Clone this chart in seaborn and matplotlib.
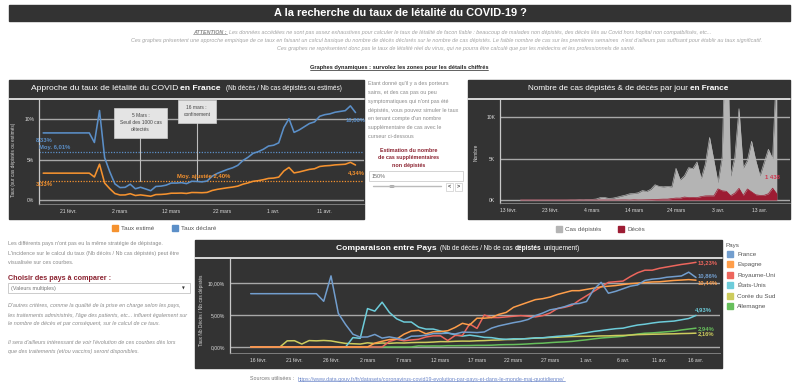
import matplotlib
matplotlib.use('Agg')
import matplotlib.pyplot as plt
import matplotlib.dates as mdates
from matplotlib.patches import Rectangle, Circle
from matplotlib.lines import Line2D
from matplotlib.ticker import FuncFormatter, FixedLocator
from matplotlib import font_manager
import pandas as pd
import seaborn as sns

# taux de létalité par pays (décès cumulés / cas dépistés cumulés, en %), du 15 févr. au 16 avr. 2020
dates_pays = pd.date_range('2020-02-15', '2020-04-16', freq='D')

france = [
    8.33, 8.33, 8.33, 8.33, 8.33, 8.33, 8.33, 8.33, 8.33, 8.33,
    7.14, 11.11, 5.26, 3.51, 2.00,
    1.54, 1.57, 1.96, 1.39, 1.58, 1.37, 1.15, 1.68, 1.72, 1.84,
    2.10, 2.10, 2.15, 2.03, 2.32, 2.30, 2.25, 2.35, 2.95, 3.30,
    3.55, 3.80, 4.00, 4.30, 4.90, 5.30, 5.80, 6.00, 6.30, 6.70, 6.80,
    7.10, 9.00, 10.10, 8.40, 8.70, 9.10, 9.50, 9.70, 10.40, 10.60,
    10.70, 10.90, 11.00, 11.10, 11.69, 10.86,
]
espagne = [
    0, 0, 0, 0, 0, 0, 0, 0, 0, 0, 0, 0, 0, 0, 0,
    0, 0, 0.60, 0.90, 1.16, 1.25, 2.00, 2.50, 2.60, 2.06,
    2.37, 2.40, 2.54, 3.05, 3.70, 3.44, 4.50, 4.50, 4.60, 5.10,
    5.40, 6.20, 6.60, 7.00, 7.40, 7.55, 7.80, 8.20, 8.50, 8.80, 8.80,
    9.00, 9.20, 9.40, 9.50, 9.60, 9.76, 9.90, 9.98, 10.08, 10.16,
    10.19, 10.30, 10.40, 10.46, 10.53, 10.44,
]
royaume_uni = [
    0, 0, 0, 0, 0, 0, 0, 0, 0, 0, 0, 0, 0, 0, 0,
    0, 0, 0, 0, 0.87, 1.20, 0.97, 1.10, 1.20, 1.56,
    1.74, 1.74, 1.00, 1.80, 1.80, 3.60, 2.90, 5.00, 4.60, 4.60,
    4.70, 4.80, 4.90, 4.80, 4.70, 4.90, 5.30, 6.00, 6.20, 6.50, 7.30,
    8.00, 8.70, 9.40, 10.10, 10.20, 10.30, 11.00, 11.60, 12.00, 12.00,
    12.30, 12.50, 12.70, 12.90, 13.05, 13.23,
]
etats_unis = [
    0, 0, 0, 0, 0, 0, 0, 0, 0, 0, 0, 0, 0, 0, 1.47,
    1.35, 6.00, 5.60, 7.00, 5.40, 4.40, 3.90, 3.90, 3.10, 2.80,
    2.80, 2.50, 2.20, 1.90, 1.70, 1.85, 1.70, 1.50, 1.46, 1.28,
    1.20, 1.28, 1.26, 1.31, 1.43, 1.44, 1.56, 1.67, 1.75, 1.84, 2.06,
    2.23, 2.43, 2.57, 2.72, 2.86, 2.94, 3.20, 3.43, 3.56, 3.74,
    3.89, 3.97, 4.05, 4.25, 4.45, 4.93,
]
coree_du_sud = [
    0, 0, 0, 0, 0, 0.96, 0.98, 0.46, 1.00, 0.96, 1.02, 0.95, 0.74, 0.56, 0.51,
    0.46, 0.65, 0.54, 0.62, 0.57, 0.64, 0.62, 0.68, 0.71, 0.72,
    0.77, 0.84, 0.83, 0.89, 0.92, 0.91, 0.97, 1.00, 1.06, 1.09,
    1.16, 1.17, 1.24, 1.33, 1.38, 1.42, 1.49, 1.52, 1.59, 1.64, 1.66,
    1.67, 1.69, 1.73, 1.74, 1.79, 1.81, 1.86, 1.93, 1.96, 1.99,
    2.01, 2.04, 2.06, 2.10, 2.12, 2.16,
]
allemagne = [
    0, 0, 0, 0, 0, 0, 0, 0, 0, 0, 0, 0, 0, 0, 0,
    0, 0, 0, 0, 0, 0, 0, 0, 0.17, 0.14,
    0.16, 0.15, 0.20, 0.20, 0.22, 0.23, 0.26, 0.26, 0.28, 0.34,
    0.37, 0.38, 0.42, 0.48, 0.55, 0.59, 0.68, 0.75, 0.80, 0.87, 1.00,
    1.12, 1.27, 1.40, 1.49, 1.58, 1.68, 1.88, 2.02, 2.15, 2.20,
    2.29, 2.38, 2.47, 2.66, 2.80, 2.94,
]

pays = ['France', 'Espagne', 'Royaume-Uni', 'États-Unis', 'Corée du Sud', 'Allemagne']
etiquettes_fin = ['10,86%', '10,44%', '13,23%', '4,93%', '2,16%', '2,94%']

# cas dépistés et décès par jour en France (dates des graphes du haut : 16 févr. -> 17 avr.)
dates_jour = pd.date_range('2020-02-16', '2020-04-17', freq='D')
cas_jour = [
    0, 0, 0, 0, 0, 0, 0, 0, 0, 0, 2, 4, 20, 19,
    43, 30, 61, 73, 120, 300, 310, 190, 230, 350,
    480, 600, 760, 790, 880, 1150, 1050, 1300, 1850, 1650,
    1600, 1650, 1600, 3840, 2450, 2930, 3920, 3810, 4610, 2600, 4380,
    7580, 4860, 2120, 5230, 25600, 2890, 5170, 11060, 3880, 4800,
    7120, 4790, 2940, 4560, 6150, 5000, 17000,
]
deces_jour = [
    0, 0, 0, 0, 0, 0, 0, 0, 0, 0, 0, 1, 0, 0,
    0, 0, 1, 1, 0, 2, 3, 2, 8, 0,
    14, 15, 0, 31, 12, 20, 30, 40, 60, 90,
    110, 110, 180, 240, 230, 365, 300, 320, 290, 420, 500,
    510, 500, 1355, 1120, 1053, 518, 833, 1417, 541, 1341,
    987, 635, 561, 574, 762, 1438, 753,
]

moyenne_declaree = 6.01
cas_supplementaires = 1.5   # curseur : 150 %
evenements = [('2020-03-06', '5 Mars :\nSeuil des 1000 cas\ndétectés', 9.6),
              ('2020-03-17', '16 mars :\nconfinement', 11.0)]

# ---------- style ----------
sns.set_style('white')
noms = {f.name for f in font_manager.fontManager.ttflist}
ETROIT = 'Liberation Sans Narrow' if 'Liberation Sans Narrow' in noms else 'Liberation Sans'
plt.rcParams['font.family'] = ['Liberation Sans', 'DejaVu Sans']

FOND = '#333333'
BLEU, ORANGE = '#5b8fc8', '#f5922f'
couleurs_pays = ['#729ece', '#ff9e4a', '#ed665d', '#6dccda', '#cdcc5d', '#67bf5c']
GRIS_CAS, ROUGE_DECES = '#b4b4b4', '#9d1c33'
MOIS = {1: 'janv.', 2: 'févr.', 3: 'mars', 4: 'avr.'}

W, H = 799, 386
fig = plt.figure(figsize=(W / 100, H / 100), dpi=100)
fig.patch.set_facecolor('white')
rendu = fig.canvas.get_renderer()


def fx(x):
    return x / W


def fy(y):
    return 1 - y / H


def rect(x, y, w, h, **kw):
    fig.add_artist(Rectangle((fx(x), fy(y + h)), w / W, h / H, transform=fig.transFigure, **kw))


def trait(x0, y0, x1, y1, **kw):
    fig.add_artist(Line2D([fx(x0), fx(x1)], [fy(y0), fy(y1)], transform=fig.transFigure, **kw))


def texte(x, y, s, **kw):
    kw.setdefault('va', 'center')
    return fig.text(fx(x), fy(y), s, **kw)


def ligne_riche(x, y, morceaux, ha='center'):
    # morceaux : (texte, style, écart en px après le morceau)
    objets = []
    for s, style, ecart in morceaux:
        o = fig.text(0, fy(y), s, va='center', ha='left', **style)
        objets.append((o, o.get_window_extent(rendu).width + ecart))
    total = sum(l for _, l in objets) - morceaux[-1][2]
    x0 = x - total / 2 if ha == 'center' else x
    for o, l in objets:
        o.set_x(fx(x0))
        x0 += l
    return [o for o, _ in objets]


def souligner(o, couleur):
    bb = o.get_window_extent(rendu)
    fig.add_artist(Line2D([bb.x0 / W, bb.x1 / W], [(bb.y0 + 0.6) / H] * 2,
                          transform=fig.transFigure, color=couleur, lw=0.5))


def axes_px(x0, y0, x1, y1):
    return fig.add_axes([fx(x0), fy(y1), (x1 - x0) / W, (y1 - y0) / H])


def panneau(x, y, w, h, y_sep):
    rect(x, y, w, h, color=FOND, zorder=0)
    trait(x, y_sep, x + w, y_sep, color='#e6e6e6', lw=1.3, zorder=1)


def style_sombre(ax, ticks_dates, fmt_y, ticks_y):
    ax.set_facecolor(FOND)
    for s in ['top', 'right']:
        ax.spines[s].set_visible(False)
    ax.spines['left'].set_color('#c8c8c8')
    ax.spines['bottom'].set_color('#8a8a8a')
    ax.spines['left'].set_linewidth(0.9)
    ax.spines['bottom'].set_linewidth(0.6)
    ax.xaxis.set_major_locator(FixedLocator(mdates.date2num(pd.to_datetime(ticks_dates))))
    ax.xaxis.set_major_formatter(FuncFormatter(
        lambda v, p: f"{mdates.num2date(v).day} {MOIS[mdates.num2date(v).month]}"))
    ax.xaxis.set_minor_locator(mdates.DayLocator())
    ax.yaxis.set_major_locator(FixedLocator(ticks_y))
    ax.yaxis.set_major_formatter(FuncFormatter(fmt_y))
    ax.tick_params(axis='both', which='major', colors='#c8c8c8', labelcolor='#dddddd',
                   labelsize=3.6, length=2, width=0.6, pad=1.5)
    ax.tick_params(axis='x', which='minor', colors='#8a8a8a', length=1.2, width=0.5)
    for t in ax.get_xticklabels() + ax.get_yticklabels():
        t.set_fontfamily(ETROIT)
    for v in ticks_y:
        ax.axhline(v, color='#a8a8a8', lw=1.0, zorder=0.5)
    ax.set_xlabel('')
    ax.set_ylabel('')


# ---------- en-tête ----------
rect(9, 5, 781, 16, color=FOND)
texte(400, 13.5, 'A la recherche du taux de létalité du COVID-19 ?', color='white',
      fontsize=7.9, fontweight='bold', fontfamily=ETROIT, ha='center')

gris_it = dict(color='#a3a3a3', fontsize=3.9, fontstyle='italic')
o = ligne_riche(452, 32.5, [('ATTENTION :', dict(gris_it, color='#8a8a8a', fontweight='bold'), 2),
                            ("Les données accédées ne sont pas assez exhaustives pour calculer le taux de létalité de facon fiable : beaucoup de malades non dépistés, des décès liés au Covid hors hopital non compatbilisés, etc...", gris_it, 0)])
souligner(o[0], '#8a8a8a')
ligne_riche(447, 40.5, [("Ces graphes présentent une approche empirique de ce taux en faisant un calcul basique du nombre de décès déclarés sur le nombre de cas dépistés. Le faible nombre de cas sur les premières semaines  n'est d'ailleurs pas suffisant pour établir au taux significatif.", gris_it, 0)])
ligne_riche(456, 48.5, [("Ces graphes ne représentent donc pas le taux de létalité réel du virus, qui ne pourra être calculé que par les médecins et les professionnels de santé.", gris_it, 0)])
o = ligne_riche(399, 68, [('Graphes dynamiques : survolez les zones pour les détails chiffrés',
                           dict(color='#222222', fontsize=4.1, fontweight='bold'), 0)])
souligner(o[0], '#222222')

# ---------- taux de létalité en France ----------
panneau(9, 80, 355, 139, 98.5)
titre = dict(color='white', fontfamily=ETROIT)
ligne_riche(186, 89, [('Approche du taux de létalité du COVID', dict(titre, fontsize=6.1), 2),
                      ('en France', dict(titre, fontsize=6.1, fontweight='bold'), 5),
                      ('(Nb décès / Nb cas dépistés ou estimés)', dict(titre, fontsize=4.7), 0)])

taux_estime = [v / (1 + cas_supplementaires) for v in france]
moyenne_ajustee = moyenne_declaree / (1 + cas_supplementaires)
df_fr = pd.DataFrame({'date': list(dates_jour) * 2,
                      'taux': taux_estime + france,
                      'serie': ['Taux estimé'] * len(france) + ['Taux déclaré'] * len(france)})

ax1 = axes_px(39, 100, 364, 204)
sns.lineplot(data=df_fr, x='date', y='taux', hue='serie', palette=[ORANGE, BLEU],
             linewidth=1.15, legend=False, ax=ax1, zorder=3)
style_sombre(ax1, ['2020-02-21', '2020-03-02', '2020-03-12', '2020-03-22', '2020-04-01', '2020-04-11'],
             lambda v, p: f'{v:.0f}%', [0, 5, 10])
ref = mdates.date2num(pd.Timestamp('2020-03-02'))
ax1.set_xlim(ref - 81 / 5.12, ref + 244 / 5.12)
ax1.set_ylim(-0.5, 12.42)

ax1.axhline(moyenne_declaree, color=BLEU, ls=(0, (1, 1.2)), lw=0.9, zorder=2)
ax1.axhline(moyenne_ajustee, color=ORANGE, ls=(0, (1, 1.2)), lw=0.9, zorder=2)
et = dict(fontsize=4.2, fontfamily=ETROIT, fontweight='bold')
ax1.text(0.0, moyenne_declaree + 0.15, 'Moy. 6,01%', color=BLEU, va='bottom', ha='left',
         transform=ax1.get_yaxis_transform(), **et)
ax1.text(0.425, moyenne_ajustee + 0.15, 'Moy. ajustée 2,40%', color=ORANGE, va='bottom', ha='left',
         transform=ax1.get_yaxis_transform(), **et)
d0, d1 = dates_jour[0], dates_jour[-1]
ax1.annotate('8,33%', (d0, france[0]), xytext=(-7, -7), textcoords='offset pixels',
             color=BLEU, ha='left', va='center', **et)
ax1.annotate('3,33%', (d0, taux_estime[0]), xytext=(-7, -10), textcoords='offset pixels',
             color=ORANGE, ha='left', va='center', **et)
ax1.annotate('10,86%', (d1, france[-1]), xytext=(0, -7), textcoords='offset pixels',
             color=BLEU, ha='center', va='center', annotation_clip=False, **et)
ax1.annotate('4,34%', (d1, taux_estime[-1]), xytext=(1, -8), textcoords='offset pixels',
             color=ORANGE, ha='center', va='center', annotation_clip=False, **et)
for d, txt, y_boite in evenements:
    d = pd.Timestamp(d)
    ax1.plot([d, d], [moyenne_ajustee, y_boite], color='#bdbdbd', lw=0.8, zorder=2.5)
    ax1.text(d, y_boite, txt, ha='center', va='center', fontsize=3.5, color='#444444',
             linespacing=1.5, zorder=5,
             bbox=dict(boxstyle='square,pad=1.1', fc='#e4e4e4', ec='#cfcfcf', lw=0.5))
texte(14, 160, 'Taux (sur cas dépistés ou estimés)', rotation=90, ha='center',
      color='#d8d8d8', fontsize=3.4, fontfamily=ETROIT)

rect(112, 225, 6, 6, color=ORANGE)
texte(121, 228.5, 'Taux estimé', color='#555555', fontsize=4.5)
rect(172, 225, 6, 6, color=BLEU)
texte(181, 228.5, 'Taux déclaré', color='#555555', fontsize=4.5)

# ---------- texte et curseur du milieu ----------
gris = dict(color='#8a8a8a', fontsize=3.9)
for i, l in enumerate(["Etant donné qu'il y a des porteurs", "sains, et des cas pas ou peu",
                       "symptomatiques qui n'ont pas été", "dépistés, vous pouvez simuler le taux",
                       "en tenant compte d'un nombre", "supplémentaire de cas avec le",
                       "curseur ci-dessous"]):
    texte(368, 84 + i * 8.7, l, **gris)
for i, l in enumerate(['Estimation du nombre', 'de cas supplémentaires', 'non dépistés']):
    texte(409, 150 + i * 8, l, ha='center', color='#8b2230', fontsize=3.9, fontweight='bold')
rect(369, 171, 94, 9.5, fc='white', ec='#cccccc', lw=0.6)
texte(372, 176, f'{cas_supplementaires:.0%}', color='#666666', fontsize=3.9)
trait(373, 186.5, 441, 186.5, color='#bbbbbb', lw=1.0)
fig.add_artist(Circle((fx(392), fy(186.5)), 2.3 / W, transform=fig.transFigure,
                      fc='white', ec='#999999', lw=0.6))
for xb, s in [(446, '<'), (455, '>')]:
    rect(xb, 182.5, 7, 8, fc='white', ec='#cccccc', lw=0.5)
    texte(xb + 3.5, 186.5, s, ha='center', color='#444444', fontsize=4, fontweight='bold')

# ---------- cas et décès par jour ----------
panneau(468, 80, 322, 139, 98.5)
ligne_riche(628, 89, [('Nombre de cas dépistés & de décès par jour', dict(titre, fontsize=5.9), 2),
                      ('en France', dict(titre, fontsize=5.9, fontweight='bold'), 0)])
df_jour = pd.DataFrame({'date': dates_jour, 'cas': cas_jour, 'deces': deces_jour})
ax2 = axes_px(500, 100, 790, 203)
ax2.fill_between(df_jour['date'], 0, df_jour['cas'], color=GRIS_CAS, lw=0, zorder=2)
ax2.fill_between(df_jour['date'], 0, df_jour['deces'], color=ROUGE_DECES, lw=0, zorder=3)
sns.lineplot(data=df_jour, x='date', y='cas', color=GRIS_CAS, linewidth=0.5, ax=ax2, zorder=2)
sns.lineplot(data=df_jour, x='date', y='deces', color=ROUGE_DECES, linewidth=0.5, ax=ax2, zorder=3)
style_sombre(ax2, ['2020-02-13', '2020-02-23', '2020-03-04', '2020-03-14', '2020-03-24',
                   '2020-04-03', '2020-04-13'], lambda v, p: f'{v / 1000:.0f}K', [0, 5000, 10000])
ref = mdates.date2num(pd.Timestamp('2020-02-13'))
ax2.set_xlim(ref - 8 / 4.2, ref + 282 / 4.2)
ax2.set_ylim(-360, 12120)
i_max = deces_jour.index(max(deces_jour[-5:]))
ax2.annotate(f'{deces_jour[i_max]:,}'.replace(',', ' '), (dates_jour[i_max], deces_jour[i_max]),
             xytext=(0, 8), textcoords='offset pixels', ha='center', va='bottom',
             color='#d0354f', fontsize=4.2, fontweight='bold', fontfamily=ETROIT, annotation_clip=False)
texte(476, 152, 'Nombre', rotation=90, ha='center', color='#d8d8d8', fontsize=3.4, fontfamily=ETROIT)

rect(556, 226, 6, 6, color=GRIS_CAS)
texte(565, 229.5, 'Cas dépistés', color='#555555', fontsize=4.5)
rect(618, 226, 6, 6, color=ROUGE_DECES)
texte(627, 229.5, 'Décès', color='#555555', fontsize=4.5)

# ---------- texte de gauche ----------
for i, l in enumerate(["Les différents pays n'ont pas eu la même stratégie de dépistage.",
                       "L'incidence sur le calcul du taux (Nb décès / Nb cas dépistés) peut être",
                       "visualisée sur ces courbes."]):
    texte(8, 244 + i * 9, l, **gris)
texte(8, 279, 'Choisir des pays à comparer :', color='#8b2230', fontsize=5.2, fontweight='bold')
rect(8, 283, 182, 10, fc='white', ec='#c4c4c4', lw=0.6)
texte(11, 288.3, '(Valeurs multiples)', color='#777777', fontsize=3.9)
texte(183, 288, '▼', color='#333333', fontsize=2.6, fontfamily='DejaVu Sans', ha='center')
for i, l in enumerate(["D'autres critères, comme la qualité de la prise en charge selon les pays,",
                       "les traitements administrés, l'âge des patients, etc... influent également sur",
                       "le nombre de décès et par conséquent, sur le calcul de ce taux."]):
    texte(8, 306 + i * 9, l, fontstyle='italic', **gris)
for i, l in enumerate(["Il sera d'ailleurs intéressant de voir l'évolution de ces courbes dès lors",
                       "que des traitements (et/ou vaccins) seront disponibles."]):
    texte(8, 342 + i * 9, l, fontstyle='italic', **gris)

# ---------- comparaison entre pays ----------
panneau(195, 240, 527, 128, 258)
ligne_riche(458, 248.5, [('Comparaison entre Pays', dict(titre, fontsize=6.1, fontweight='bold'), 3),
                         ('(Nb de décès / Nb de cas', dict(titre, fontsize=4.7), 2),
                         ('dépistés', dict(titre, fontsize=4.7, fontweight='bold'), 2),
                         ('uniquement)', dict(titre, fontsize=4.7), 0)])
series = [france, espagne, royaume_uni, etats_unis, coree_du_sud, allemagne]
df_pays = pd.DataFrame({'date': list(dates_pays) * len(pays),
                        'taux': [v for s in series for v in s],
                        'pays': [p for p in pays for _ in dates_pays]})
ax3 = axes_px(230, 259, 720, 353)
sns.lineplot(data=df_pays, x='date', y='taux', hue='pays', hue_order=pays[::-1],
             palette=couleurs_pays[::-1], linewidth=1.1, legend=False, ax=ax3, zorder=3)
style_sombre(ax3, pd.date_range('2020-02-16', '2020-04-16', freq='5D'),
             lambda v, p: f'{v:.2f}%'.replace('.', ','), [0, 5, 10])
ref = mdates.date2num(pd.Timestamp('2020-02-16'))
ax3.set_xlim(ref - 28 / 7.3, ref + 462 / 7.3)
ax3.set_ylim(-0.94, 13.75)
decalages = {'France': (2, 2), 'Espagne': (2, -2), 'États-Unis': (-1, 6)}
for p, s, c, e in zip(pays, series, couleurs_pays, etiquettes_fin):
    ax3.annotate(e, (dates_pays[-1], s[-1]), xytext=decalages.get(p, (2, 0)), textcoords='offset pixels',
                 ha='left', va='center', color=c, annotation_clip=False, **et)
texte(202, 310, 'Taux Nb Décès / Nb cas dépistés', rotation=90, ha='center',
      color='#d8d8d8', fontsize=3.4, fontfamily=ETROIT)

texte(726, 245, 'Pays', color='#555555', fontsize=4.5)
for i, (p, c) in enumerate(zip(pays, couleurs_pays)):
    rect(727, 251 + i * 10.4, 6, 6, color=c)
    texte(737, 254.5 + i * 10.4, p, color='#555555', fontsize=4.5)

# ---------- sources ----------
o = ligne_riche(250, 379, [('Sources utilisées :', dict(color='#777777', fontsize=3.9), 4),
                           ('https://www.data.gouv.fr/fr/datasets/coronavirus-covid19-evolution-par-pays-et-dans-le-monde-maj-quotidienne/',
                            dict(color='#6b86c9', fontsize=3.9), 0)], ha='left')
souligner(o[1], '#6b86c9')

fig.savefig('out.png', dpi=100, facecolor='white')
